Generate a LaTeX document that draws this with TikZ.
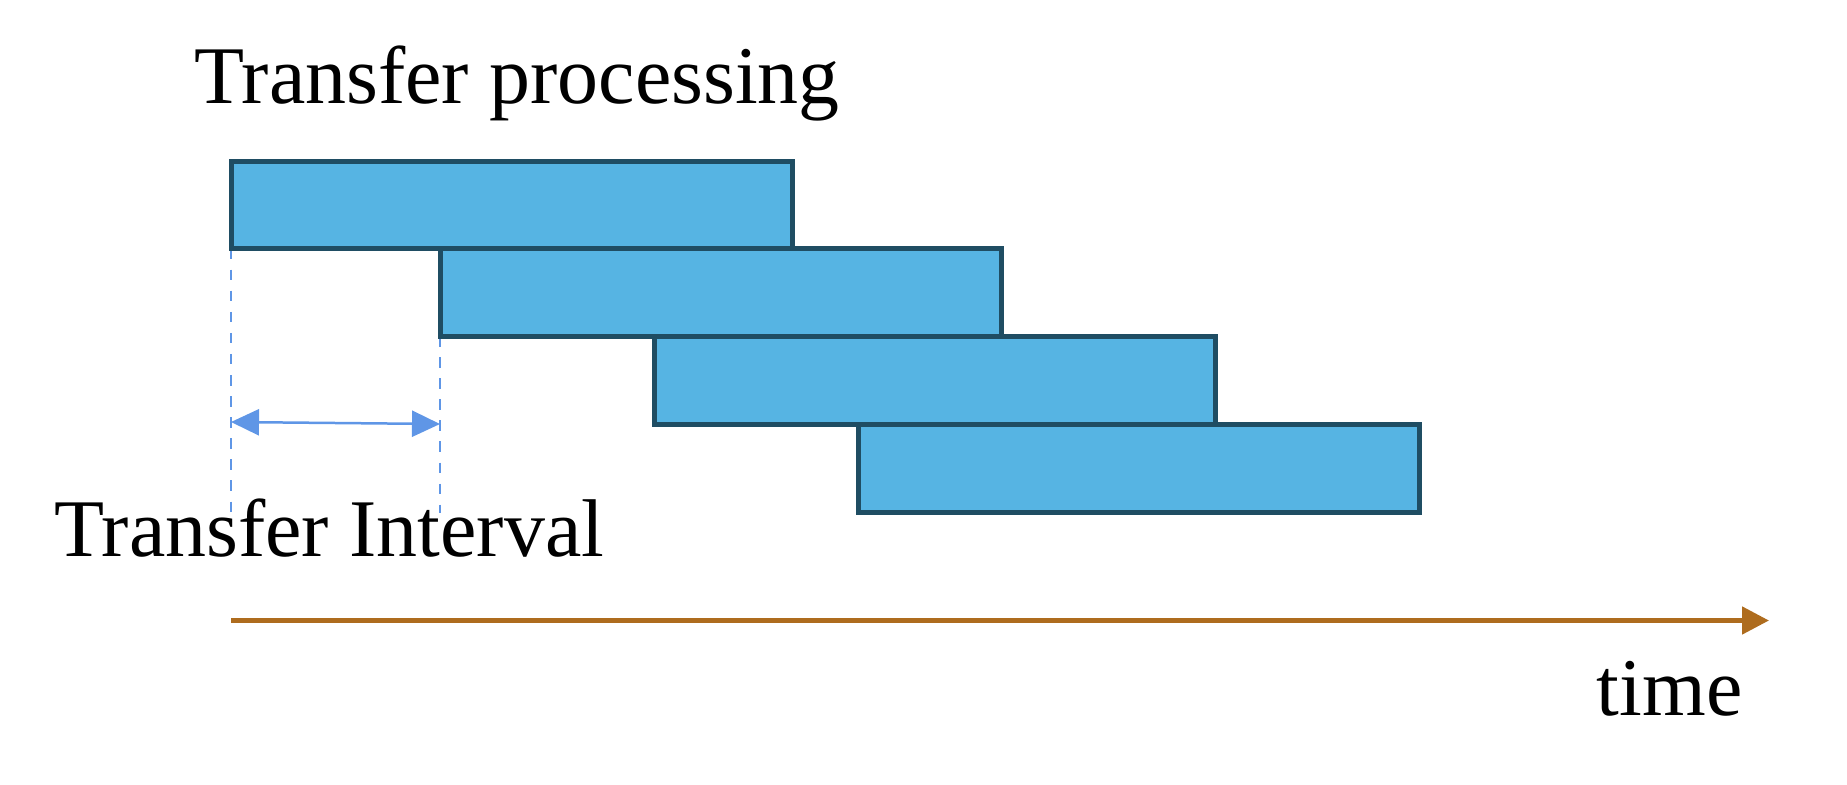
\documentclass[tikz,border=0pt]{standalone}
\usepackage{fontspec}
\setmainfont{Liberation Serif}
\usepackage{tikz}
\usetikzlibrary{positioning}
\usetikzlibrary{arrows.meta}
\pgfdeclarelayer{background}
\pgfdeclarelayer{foreground}
\pgfsetlayers{background,main,foreground}
\definecolor{barfill}{HTML}{56B4E3}
\definecolor{bardraw}{HTML}{1F4D63}
\definecolor{intervalblue}{HTML}{5F96E6}
\definecolor{timebrown}{HTML}{AE6C1E}

\begin{document}
\begin{tikzpicture}[
					barnode/.style={rectangle, draw=bardraw, line width=0.05cm, fill=barfill, minimum width=5.61cm, minimum height=0.875cm, anchor=north west, inner sep=0pt, outer sep=0pt},
					labelnode/.style={inner sep=0pt, font=\fontsize{23.3}{28}\selectfont},
					]
					\useasboundingbox (0,0) rectangle (18.47,-7.85);
					%Nodes
					\node[barnode]      (p1)      at 	(2.31,-1.61)    {};
					\node[barnode]      (p2)      at 	(4.40,-2.485)   {};
					\node[barnode]      (p3)      at 	(6.545,-3.365)  {};
					\node[barnode]      (p4)      at 	(8.58,-4.245)   {};
					\node[labelnode, anchor=base west]  (proc)  at (1.94,-1.04)  {Transfer processing};
					\node[labelnode, anchor=base west]  (intv)  at (0.54,-5.56)  {Transfer Interval};
					\node[labelnode, anchor=base east]  (time)  at (17.43,-7.15) {time};
					\coordinate (d1) at (2.31,-5.13);
					\coordinate (d2) at (4.40,-5.13);
					\coordinate (a1) at (2.31,-4.22);
					\coordinate (a2) at (4.40,-4.24);
					\coordinate (t0) at (2.31,-6.205);
					\coordinate (t1) at (17.69,-6.205);
					
					\begin{pgfonlayer}{background}
					%Lines
					\draw[intervalblue, line width=0.4pt, dashed] (p1.south west) -- (d1);
					\draw[intervalblue, line width=0.4pt, dashed] (p2.south west) -- (d2);
					\end{pgfonlayer}
					\draw[intervalblue, line width=0.025cm, {Triangle[length=0.28cm,width=0.26cm]}-{Triangle[length=0.28cm,width=0.26cm]}] (a1) -- (a2);
					\draw[timebrown, line width=0.05cm, -{Triangle[length=0.27cm,width=0.27cm]}] (t0) -- (t1);
				\end{tikzpicture}
\end{document}
